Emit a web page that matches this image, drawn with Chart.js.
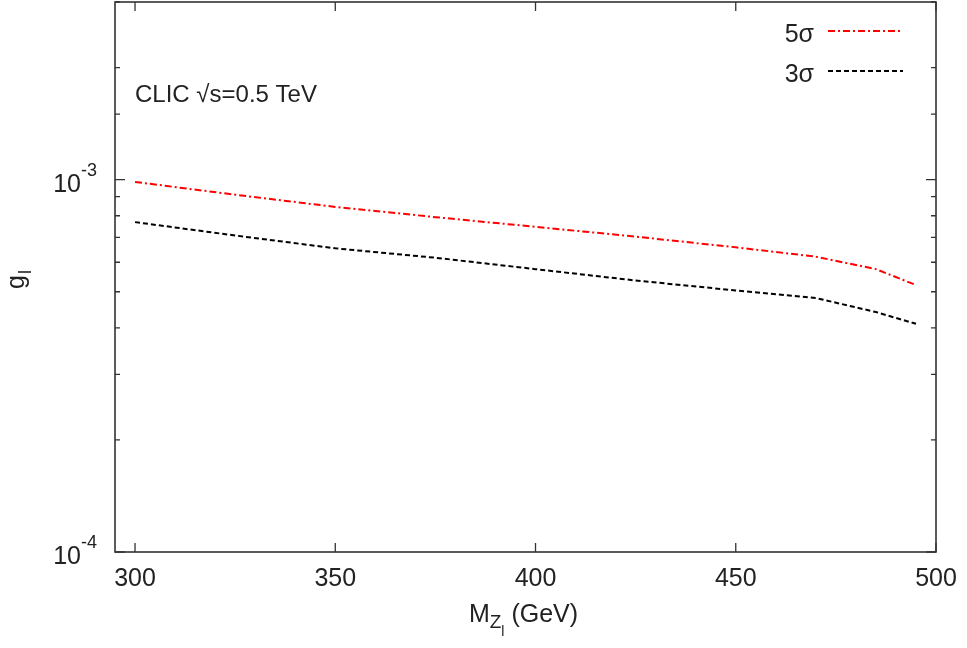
<!DOCTYPE html>
<html><head><meta charset="utf-8">
<script src="https://cdn.jsdelivr.net/npm/chart.js@4"></script>
<style>html,body{margin:0;padding:0;background:#fff}#wrap{width:967px;height:648px}</style>
</head><body><div id="wrap"><canvas id="c" width="967" height="648"></canvas></div>
<script>
const massGeV = [300, 325, 350, 375, 400, 425, 450, 470, 485, 495];
const sigma5 = [9.86e-4, 9.11e-4, 8.45e-4, 7.93e-4, 7.47e-4, 7.03e-4, 6.58e-4, 6.21e-4, 5.75e-4, 5.21e-4];
const sigma3 = [7.69e-4, 7.08e-4, 6.54e-4, 6.17e-4, 5.75e-4, 5.36e-4, 5.04e-4, 4.81e-4, 4.41e-4, 4.10e-4];
const seriesLabels = ['5σ', '3σ'];
const xTickValues = [300, 350, 400, 450, 500];
const xTickLabels = ['300', '350', '400', '450', '500'];
const yMajorValues = [1e-4, 1e-3];
const yMajorExponents = ['-4', '-3'];
const annotationText = 'CLIC √s=0.5 TeV';

const FONT = '"Liberation Sans", Arial, sans-serif';
const TXT = '#222';

const decor = {
  id: 'decor',
  afterDraw(chart) {
    const ctx = chart.ctx, a = chart.chartArea;
    const xs = chart.scales.x, ys = chart.scales.y;
    ctx.save();
    // box
    ctx.strokeStyle = '#333'; ctx.lineWidth = 1.6; ctx.setLineDash([]);
    ctx.strokeRect(a.left, a.top, a.right - a.left, a.bottom - a.top);
    // y ticks (inward, mirrored)
    ctx.lineWidth = 1.3;
    ys.ticks.forEach(t => {
      const v = t.value;
      if (v < ys.min * 0.999 || v > ys.max * 1.001) return;
      const y = ys.getPixelForValue(v);
      const major = yMajorValues.some(m => Math.abs(m - v) / m < 1e-6);
      const L = major ? 10 : 5;
      ctx.beginPath();
      ctx.moveTo(a.left, y); ctx.lineTo(a.left + L, y);
      ctx.moveTo(a.right, y); ctx.lineTo(a.right - L, y);
      ctx.stroke();
    });
    // x ticks
    xTickValues.forEach(v => {
      const x = xs.getPixelForValue(v);
      ctx.beginPath();
      ctx.moveTo(x, a.bottom); ctx.lineTo(x, a.bottom - 9);
      ctx.moveTo(x, a.top); ctx.lineTo(x, a.top + 9);
      ctx.stroke();
    });
    // x tick labels
    ctx.fillStyle = TXT;
    ctx.font = '25px ' + FONT;
    ctx.textAlign = 'center'; ctx.textBaseline = 'alphabetic';
    xTickValues.forEach((v, i) => {
      ctx.fillText(xTickLabels[i], xs.getPixelForValue(v), 586);
    });
    // y tick labels
    yMajorValues.forEach((v, i) => {
      const y = ys.getPixelForValue(v);
      const right = 97;
      ctx.font = '18px ' + FONT; ctx.textAlign = 'right';
      const sw = ctx.measureText(yMajorExponents[i]).width;
      ctx.fillText(yMajorExponents[i], right, y - 4);
      ctx.font = '25px ' + FONT;
      ctx.fillText('10', right - sw, y + 12);
    });
    // x title
    ctx.textAlign = 'left';
    const parts = [['M', 25, 0], ['Z', 19, 6], ['l', 14, 14], [' (GeV)', 25, 0]];
    let total = 0;
    parts.forEach(p => { ctx.font = p[1] + 'px ' + FONT; total += ctx.measureText(p[0]).width; });
    let x0 = (a.left + a.right) / 2 - total / 2 - 2;
    parts.forEach(p => { ctx.font = p[1] + 'px ' + FONT; ctx.fillText(p[0], x0, 622 + p[2]); x0 += ctx.measureText(p[0]).width; });
    // y title
    ctx.save();
    ctx.translate(24, 289); ctx.rotate(-Math.PI / 2);
    ctx.font = '25px ' + FONT; ctx.fillText('g', 0, 0);
    const gw = ctx.measureText('g').width;
    ctx.font = '18px ' + FONT; ctx.fillText('l', gw + 1, 7);
    ctx.restore();
    // annotation
    ctx.font = '24px ' + FONT; ctx.textAlign = 'left';
    ctx.fillText(annotationText, 135, 102);
    // legend
    chart.data.datasets.forEach((ds, i) => {
      const yy = 33 + i * 40;
      ctx.font = '25px ' + FONT; ctx.textAlign = 'right'; ctx.fillStyle = TXT;
      ctx.fillText(seriesLabels[i], 814, yy + 9);
      ctx.strokeStyle = ds.borderColor; ctx.lineWidth = ds.borderWidth;
      ctx.setLineDash(ds.borderDash);
      ctx.beginPath(); ctx.moveTo(828, yy - 2); ctx.lineTo(903, yy - 2); ctx.stroke();
    });
    ctx.restore();
  }
};

new Chart(document.getElementById('c'), {
  type: 'line',
  data: {
    datasets: [
      { label: seriesLabels[0], data: massGeV.map((m, i) => ({x: m, y: sigma5[i]})),
        borderColor: '#ff0000', borderWidth: 2, borderDash: [7, 3, 2, 3], pointRadius: 0, fill: false, tension: 0 },
      { label: seriesLabels[1], data: massGeV.map((m, i) => ({x: m, y: sigma3[i]})),
        borderColor: '#000000', borderWidth: 2, borderDash: [5, 3], pointRadius: 0, fill: false, tension: 0 }
    ]
  },
  options: {
    responsive: false, animation: false, devicePixelRatio: 1,
    layout: { padding: { top: 2, right: 31, left: 0, bottom: 0 } },
    plugins: { legend: { display: false }, tooltip: { enabled: false } },
    scales: {
      x: { type: 'linear', min: 295, max: 500,
           ticks: { display: false }, grid: { display: false }, border: { display: false },
           afterFit: s => { s.height = 96; } },
      y: { type: 'logarithmic', min: 1e-4, max: 3e-3,
           ticks: { display: false }, grid: { display: false }, border: { display: false },
           afterFit: s => { s.width = 115; } }
    }
  },
  plugins: [decor]
});
</script>
</body></html>
